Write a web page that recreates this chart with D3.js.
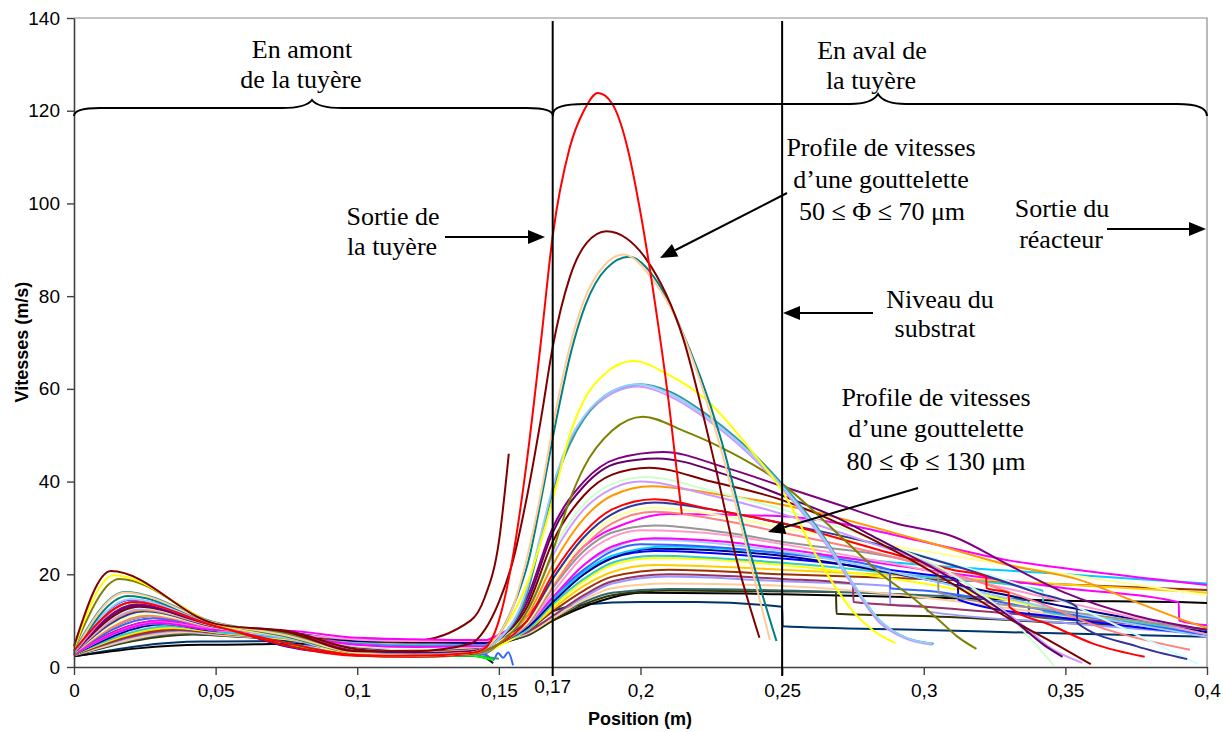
<!DOCTYPE html>
<html>
<head>
<meta charset="utf-8">
<script src="https://cdn.jsdelivr.net/npm/d3@7"></script>
<style>
  body { margin: 0; background: #fff; }
  text { fill: #000; }
</style>
</head>
<body>
<svg id="chart" width="1223" height="732"></svg>
<script>
// axis ticks
const xTicks = [0, 0.05, 0.1, 0.15, 0.2, 0.25, 0.3, 0.35, 0.4]
const yTicks = [0, 20, 40, 60, 80, 100, 120, 140]
const nozzleExit = 0.169 // drawn and labelled as "0,17"
const substrate = 0.25

// one colour per droplet trajectory
const seriesColors = [
  '#FF0000', '#800000', '#FFCC99', '#008080', '#FFFF00', '#99CCFF', '#339999', '#CC99FF',
  '#808000', '#800080', '#660066', '#800000', '#CCFFCC', '#CC99FF', '#FF9900', '#FF0000',
  '#333399', '#CCFFFF', '#FFFF99', '#FF8080', '#FF00FF', '#969696', '#FF99CC', '#FF00FF',
  '#99CCFF', '#3366FF', '#00CCFF', '#000080', '#0000FF', '#33CCCC', '#FFFF00', '#FFCC00',
  '#993300', '#993366', '#9999FF', '#FFCC99', '#336666', '#333300', '#000000', '#003366',
  '#00FF00', '#339966', '#003300', '#3366FF', '#800000'
]

// upstream part (x <= 0.14): [v(0), x of peak, v at peak, then v at upstreamX]
const upstreamX = [0.05, 0.075, 0.1, 0.12, 0.14]
const upstream = [
  [3.5, 0.021, 14, 8.8, 5.2, 2.6, 2.4, 3],
  [4.5, 0.013, 20.7, 9.3, 7.6, 3.4, 3.4, 5],
  [3, 0.018, 16, 9.5, 6.8, 3, 2.5, 3],
  [3, 0.019, 15.3, 9.5, 6.6, 3, 2.6, 3],
  [4, 0.014, 19.8, 9.3, 6.5, 2.8, 2.4, 3],
  [3, 0.02, 14.6, 9.2, 6.4, 3, 2.6, 3],
  [3.5, 0.018, 16.2, 9.6, 6.9, 3, 2.6, 3],
  [3, 0.021, 14, 9, 6.2, 3, 2.7, 3],
  [4, 0.016, 19, 9.4, 7.2, 3, 2.5, 3],
  [3, 0.022, 13.5, 9, 7.4, 3.4, 2.8, 3.2],
  [3, 0.022, 13.2, 9, 7, 3.3, 2.9, 3.3],
  [3, 0.023, 13, 9, 7.8, 3.8, 3, 3.4],
  [3, 0.023, 12.8, 8.9, 6.5, 3.6, 3, 3.4],
  [3, 0.024, 12.5, 8.8, 6.6, 3.6, 3.1, 3.5],
  [3, 0.024, 12.3, 8.8, 6.8, 3.8, 3.2, 3.6],
  [3, 0.021, 14, 9, 4.6, 2.4, 2.2, 2.8],
  [3, 0.025, 12, 8.6, 6.6, 4, 3.4, 3.8],
  [3, 0.025, 11.8, 8.6, 6.4, 4, 3.4, 3.8],
  [3, 0.026, 11.5, 8.5, 6.5, 4.1, 3.5, 3.9],
  [3, 0.027, 11, 8.4, 6.6, 4.2, 3.6, 4],
  [2.8, 0.03, 9.5, 8, 7.8, 6.3, 6, 5.8],
  [3, 0.026, 11.2, 8.5, 5.2, 2.6, 2.2, 2.8],
  [2.8, 0.03, 9.6, 8, 7.2, 5.9, 5.6, 5.6],
  [2.8, 0.03, 10, 8.1, 6.8, 4.8, 4.3, 4.5],
  [2.8, 0.03, 9.8, 8, 6.6, 4.8, 4.3, 4.5],
  [2.8, 0.03, 9.6, 8, 6.5, 4.9, 4.4, 4.6],
  [2.8, 0.03, 9.4, 7.9, 6.3, 5, 4.5, 4.7],
  [2.7, 0.032, 9.2, 7.8, 7.4, 5.6, 5.4, 5.2],
  [3, 0.02, 14.5, 9.3, 4.4, 2.7, 2.4, 2.9],
  [2.7, 0.034, 8.8, 7.6, 6.2, 5.1, 4.7, 4.8],
  [2.7, 0.034, 8.6, 7.5, 6, 3.5, 2.6, 3],
  [2.7, 0.035, 8.4, 7.5, 6.2, 5.2, 4.8, 4.9],
  [2.6, 0.036, 8.2, 7.4, 6.4, 5.3, 4.9, 5],
  [2.6, 0.037, 8, 7.3, 6.2, 5.4, 5, 5.1],
  [2.6, 0.038, 7.8, 7.2, 6.1, 5.4, 5.1, 5.2],
  [2.5, 0.04, 7.5, 7, 6.1, 5.5, 5.2, 5.3],
  [2.5, 0.04, 7.2, 6.9, 6, 5.5, 5.3, 5.4],
  [2.5, 0.042, 7, 6.8, 6, 5.6, 5.4, 5.5],
  [2.3, 0.045, 4.8, 4.8, 5, 5.3, 5.2, 4.6],
  [2.3, 0.045, 5.5, 5.5, 5.6, 5.8, 5.7, 5.5],
  [3, 0.022, 13.5, 9, 5, 2.5, 2.3, 2.5],
  [3, 0.024, 12, 8.8, 5.2, 2.6, 2.4, 2.6],
  [3, 0.027, 11, 8.4, 4.8, 2.5, 2.2, 2.4],
  [3, 0.028, 10.5, 8.2, 5.5, 3.5, 3.2, 3],
  [3, 0.03, 10, 8, 7, 5.4, 5.6, 10]
]

// nozzle and downstream part (x > 0.14): [x, v]
const downstream = [
  [[0.145, 4], [0.15, 10], [0.155, 24], [0.16, 45], [0.165, 71], [0.169, 93], [0.175, 112], [0.18, 120], [0.185, 123.8], [0.19, 121.5], [0.195, 113], [0.2, 98], [0.205, 79], [0.21, 57], [0.2146, 33]],
  [[0.145, 8], [0.15, 14], [0.155, 23], [0.16, 37], [0.165, 54], [0.169, 69], [0.175, 84], [0.181, 91.5], [0.188, 94], [0.195, 92.5], [0.202, 88], [0.215, 71], [0.225, 47], [0.234, 23], [0.242, 6.3]],
  [[0.145, 4], [0.15, 7], [0.155, 13], [0.1597, 23], [0.165, 38], [0.17, 55], [0.175, 69], [0.18, 79], [0.187, 86.5], [0.194, 89], [0.205, 83], [0.2127, 75], [0.227, 50], [0.2386, 23], [0.2457, 5.8]],
  [[0.145, 4], [0.15, 7], [0.155, 13], [0.1605, 23], [0.1655, 38], [0.1705, 54], [0.1755, 68], [0.1805, 78], [0.188, 86], [0.196, 88.5], [0.206, 83], [0.2135, 74], [0.228, 50], [0.2395, 23], [0.248, 5.6]],
  [[0.145, 4], [0.15, 7], [0.16, 18], [0.169, 36], [0.175, 50], [0.18, 57.5], [0.187, 63], [0.1974, 66], [0.21, 63], [0.2233, 57.6], [0.24, 46], [0.25, 38], [0.263, 23], [0.275, 12], [0.283, 7.5], [0.29, 5.2]],
  [[0.145, 4], [0.15, 6], [0.16, 17], [0.165, 29], [0.17, 41], [0.175, 49], [0.18, 54], [0.19, 59.5], [0.199, 61], [0.21, 59], [0.2233, 54], [0.25, 39], [0.2655, 27], [0.275, 18], [0.2845, 10], [0.293, 6.5], [0.303, 5]],
  [[0.145, 4], [0.15, 6], [0.16, 16], [0.165, 28], [0.17, 40], [0.175, 48], [0.18, 53.5], [0.19, 59.5], [0.2, 61], [0.21, 59.5], [0.2233, 54.5], [0.25, 39.5], [0.2655, 27.4], [0.275, 18], [0.2845, 10], [0.293, 6.5], [0.3035, 5]],
  [[0.145, 4], [0.15, 6], [0.16, 16.5], [0.165, 28.5], [0.17, 40.5], [0.175, 48.5], [0.18, 53.5], [0.19, 59], [0.199, 60.5], [0.21, 58.5], [0.2233, 53.5], [0.25, 38.5], [0.2655, 26.5], [0.275, 17.5], [0.2845, 9.5], [0.293, 6.3], [0.303, 4.8]],
  [[0.145, 3.5], [0.15, 5], [0.16, 12], [0.169, 25], [0.175, 36], [0.18, 43], [0.19, 51], [0.2009, 54], [0.215, 51], [0.228, 47.5], [0.249, 40], [0.2727, 27], [0.285, 20], [0.296, 15], [0.3056, 10], [0.312, 6.5], [0.3186, 3.9]],
  [[0.145, 4], [0.15, 6], [0.16, 15], [0.169, 30], [0.18, 40], [0.192, 45], [0.208, 46.4], [0.23, 43], [0.25, 39], [0.27, 35], [0.29, 31], [0.311, 28], [0.33, 22], [0.35, 16], [0.375, 11], [0.4, 8]],
  [[0.145, 4], [0.15, 6], [0.16, 14], [0.169, 29], [0.18, 39], [0.192, 44], [0.206, 45], [0.23, 41.5], [0.25, 37], [0.27, 32], [0.2845, 27.4], [0.31, 19], [0.33, 11], [0.343, 4.5], [0.349, 2.2]],
  [[0.145, 4], [0.15, 6], [0.16, 13], [0.169, 27], [0.18, 37], [0.19, 41.5], [0.203, 43], [0.225, 40], [0.25, 36], [0.27, 31], [0.288, 25.6], [0.31, 18], [0.33, 10.5], [0.345, 5.5], [0.359, 0.6]],
  [[0.145, 4], [0.15, 6], [0.16, 12], [0.169, 25], [0.18, 35], [0.19, 39.5], [0.202, 41], [0.225, 38], [0.25, 34], [0.28, 28], [0.31, 20], [0.33, 11], [0.346, 0.3]],
  [[0.145, 4], [0.15, 6], [0.16, 12], [0.169, 24], [0.18, 34], [0.19, 38.5], [0.2, 40], [0.225, 37], [0.25, 33], [0.28, 27], [0.31, 20], [0.335, 9], [0.345, 4], [0.356, 0.9]],
  [[0.145, 4], [0.15, 6], [0.16, 11], [0.169, 22], [0.18, 32], [0.19, 37], [0.204, 39], [0.225, 37.5], [0.25, 35], [0.2986, 27.4], [0.33, 22], [0.355, 18.8], [0.375, 14], [0.39, 10.5], [0.4, 8.4]],
  [[0.145, 3.5], [0.15, 5], [0.16, 10], [0.169, 20], [0.18, 29], [0.19, 34], [0.205, 36.2], [0.225, 34], [0.25, 31], [0.2845, 25.2], [0.31, 21], [0.322, 19.5], [0.3222, 17], [0.33, 16], [0.3302, 13], [0.345, 9], [0.36, 5], [0.378, 2.2]],
  [[0.145, 4], [0.15, 6], [0.16, 10], [0.169, 19], [0.18, 28], [0.19, 33], [0.205, 35.5], [0.225, 34], [0.25, 31], [0.28, 27], [0.31, 22], [0.34, 16], [0.354, 13], [0.3542, 9.5], [0.375, 4.5], [0.393, 1.7]],
  [[0.145, 4], [0.15, 6], [0.16, 10], [0.169, 19], [0.18, 28], [0.19, 33], [0.2, 35.5], [0.225, 34], [0.25, 31], [0.3, 24], [0.35, 14], [0.375, 7], [0.397, 0.6]],
  [[0.145, 4], [0.15, 5.5], [0.16, 9.5], [0.169, 18], [0.18, 27], [0.19, 32], [0.205, 34.3], [0.23, 32.5], [0.25, 30], [0.3, 25], [0.35, 20], [0.4, 15.5]],
  [[0.145, 4], [0.15, 5.5], [0.16, 9.5], [0.169, 17.5], [0.18, 26], [0.19, 31], [0.205, 33.5], [0.23, 31.5], [0.25, 29], [0.3, 22], [0.34, 14], [0.365, 8], [0.394, 3.7]],
  [[0.145, 5.8], [0.15, 7], [0.16, 11], [0.169, 18], [0.18, 26], [0.195, 31], [0.21, 33], [0.25, 32.5], [0.27, 31], [0.3, 27], [0.33, 23], [0.36, 20.5], [0.4, 17.7]],
  [[0.145, 3], [0.15, 5], [0.16, 9], [0.169, 17], [0.18, 25], [0.19, 29], [0.205, 30.5], [0.23, 29], [0.25, 27], [0.3, 22], [0.305, 21], [0.3052, 16], [0.35, 12], [0.4, 8]],
  [[0.145, 5.6], [0.15, 6.5], [0.16, 9], [0.169, 16], [0.18, 24], [0.19, 28], [0.2, 29.5], [0.23, 28.5], [0.25, 26.5], [0.3, 21], [0.35, 14], [0.4, 7]],
  [[0.145, 4.5], [0.15, 6], [0.16, 9], [0.169, 15], [0.18, 22], [0.19, 26], [0.205, 27.8], [0.23, 27], [0.25, 25.5], [0.3, 21], [0.35, 17], [0.39, 14], [0.3902, 10], [0.4, 9]],
  [[0.145, 4.5], [0.15, 6], [0.16, 9], [0.169, 15], [0.18, 22], [0.19, 25.5], [0.2, 27.5], [0.25, 25], [0.3, 19], [0.35, 12], [0.4, 6.5]],
  [[0.145, 4.6], [0.15, 6], [0.16, 9], [0.169, 15], [0.18, 21], [0.19, 25], [0.2, 26.5], [0.25, 24.5], [0.288, 21], [0.2882, 17], [0.3, 16.5], [0.35, 11.5], [0.4, 7]],
  [[0.145, 4.7], [0.15, 6], [0.16, 9], [0.169, 14.5], [0.18, 20.5], [0.19, 24], [0.21, 26], [0.25, 24.6], [0.3, 22], [0.35, 20], [0.4, 18]],
  [[0.145, 5.2], [0.15, 6], [0.16, 8.5], [0.169, 14], [0.18, 20], [0.19, 23.5], [0.205, 25.5], [0.25, 24], [0.3, 19], [0.35, 13], [0.4, 7.5]],
  [[0.145, 3], [0.15, 5], [0.16, 8.5], [0.169, 14], [0.18, 20], [0.19, 23.5], [0.205, 25], [0.25, 23.4], [0.3, 20], [0.312, 19], [0.3122, 14.5], [0.35, 10.5], [0.4, 7]],
  [[0.145, 4.8], [0.15, 5.5], [0.16, 8], [0.169, 13.5], [0.18, 19], [0.19, 22.5], [0.205, 24], [0.25, 22.5], [0.3, 19.5], [0.342, 16.5], [0.3422, 12], [0.37, 10], [0.4, 7.5]],
  [[0.145, 3], [0.15, 4.5], [0.16, 8], [0.169, 13], [0.18, 18.5], [0.19, 22], [0.205, 23.5], [0.25, 22], [0.3, 18], [0.35, 12], [0.4, 7.8]],
  [[0.145, 5], [0.15, 6], [0.16, 8], [0.169, 12.5], [0.18, 17.5], [0.19, 20.5], [0.205, 22], [0.25, 21], [0.3, 19.5], [0.35, 17.8], [0.4, 16]],
  [[0.145, 5], [0.15, 6], [0.16, 8], [0.169, 12], [0.18, 16.5], [0.19, 19.5], [0.21, 21], [0.25, 20], [0.3, 19], [0.35, 17.8], [0.4, 16.6]],
  [[0.145, 5.1], [0.15, 5.8], [0.16, 7.5], [0.169, 11], [0.18, 15.5], [0.19, 18.5], [0.21, 20], [0.25, 19], [0.275, 18], [0.2752, 14], [0.3, 13], [0.35, 10.5], [0.4, 8]],
  [[0.145, 5.2], [0.15, 5.8], [0.16, 7.5], [0.169, 11], [0.18, 15], [0.19, 18], [0.21, 19.5], [0.25, 18.5], [0.288, 17.5], [0.2882, 13.5], [0.301, 13], [0.3012, 12], [0.35, 9.5], [0.4, 7]],
  [[0.145, 5.3], [0.15, 5.8], [0.16, 7.2], [0.169, 10.5], [0.18, 14.5], [0.19, 17], [0.21, 18], [0.25, 17.5], [0.3, 15], [0.35, 11], [0.4, 7]],
  [[0.145, 5.4], [0.15, 5.6], [0.16, 7], [0.169, 10.5], [0.18, 14], [0.19, 16], [0.21, 16.8], [0.25, 16.5], [0.3, 15.5], [0.337, 14.5], [0.3372, 11], [0.37, 9.5], [0.4, 8]],
  [[0.145, 5.5], [0.15, 5.6], [0.16, 6.8], [0.169, 10], [0.18, 13.5], [0.19, 15.5], [0.21, 16.5], [0.25, 16.3], [0.269, 16.2], [0.2692, 11.5], [0.3, 11], [0.35, 9.5], [0.4, 8.2]],
  [[0.145, 4.5], [0.15, 5], [0.16, 7], [0.169, 10], [0.18, 13], [0.19, 15], [0.2, 16], [0.25, 15.7], [0.3, 15], [0.35, 14.3], [0.39, 14], [0.4, 13.8]],
  [[0.145, 5.5], [0.15, 5.7], [0.16, 7.5], [0.169, 12], [0.18, 13.5], [0.2, 14], [0.22, 14], [0.25, 13], [0.2502, 8.8], [0.3, 8], [0.35, 7.2], [0.4, 6.5]],
  [[0.145, 2], [0.148, 1.5]],
  [[0.145, 2.2], [0.15, 1.8]],
  [[0.145, 2], [0.148, 0.8]],
  [[0.1455, 2.6], [0.148, 1.5], [0.1497, 3], [0.1515, 2], [0.1533, 3.2], [0.155, 0.4]],
  [[0.145, 15], [0.15, 27], [0.1535, 46]]
]

const svg = d3.select('#chart')
const x = d3.scaleLinear().domain([0, 0.4]).range([74, 1207])
const y = d3.scaleLinear().domain([0, 140]).range([667, 18])
const comma = (d) => String(d).replace('.', ',')

// build each trajectory from its two parts
const series = upstream.map((u, i) => {
  const pts = [[0, u[0]], [u[1], u[2]]]
  upstreamX.forEach((xv, k) => pts.push([xv, u[3 + k]]))
  return { color: seriesColors[i], points: pts.concat(downstream[i]) }
})

// plot frame (grey top/right)
svg.append('path')
  .attr('d', `M${x(0)},${y(140)}H${x(0.4)}V${y(0)}`)
  .attr('fill', 'none').attr('stroke', '#8c8c8c').attr('stroke-width', 1.2)

const line = d3.line()
  .x((d) => x(d[0]))
  .y((d) => y(d[1]))
  .curve(d3.curveMonotoneX)

svg.append('g')
  .selectAll('path')
  .data(series.slice().reverse())
  .join('path')
  .attr('d', (d) => line(d.points))
  .attr('fill', 'none')
  .attr('stroke', (d) => d.color)
  .attr('stroke-width', 2)

// axes
const yAxis = svg.append('g')
  .attr('transform', `translate(${x(0)},0)`)
  .call(d3.axisLeft(y).tickValues(yTicks).tickSize(7).tickSizeOuter(0).tickPadding(7))
const xAxis = svg.append('g')
  .attr('transform', `translate(0,${y(0)})`)
  .call(d3.axisBottom(x).tickValues(xTicks).tickFormat(comma).tickSize(8).tickSizeOuter(0).tickPadding(9))

;[xAxis, yAxis].forEach((g) => {
  g.select('.domain').attr('stroke', '#404040').attr('stroke-width', 1.6)
  g.selectAll('.tick line').attr('stroke', '#404040').attr('stroke-width', 1.4)
  g.selectAll('.tick text')
    .attr('font-family', 'Liberation Sans, Arial, sans-serif')
    .attr('font-size', 19)
    .attr('fill', '#000')
})

// extra label at nozzle exit
svg.append('text')
  .attr('x', x(nozzleExit)).attr('y', 693)
  .attr('text-anchor', 'middle')
  .attr('font-family', 'Liberation Sans, Arial, sans-serif')
  .attr('font-size', 19)
  .text('0,17')

// axis titles
svg.append('text')
  .attr('x', 640).attr('y', 725)
  .attr('text-anchor', 'middle')
  .attr('font-family', 'Liberation Sans, Arial, sans-serif')
  .attr('font-size', 18).attr('font-weight', 'bold')
  .text('Position (m)')
svg.append('text')
  .attr('transform', 'translate(28,342) rotate(-90)')
  .attr('text-anchor', 'middle')
  .attr('font-family', 'Liberation Sans, Arial, sans-serif')
  .attr('font-size', 18).attr('font-weight', 'bold')
  .text('Vitesses (m/s)')

// nozzle exit and substrate levels
;[nozzleExit, substrate].forEach((v) => {
  svg.append('line')
    .attr('x1', x(v)).attr('x2', x(v))
    .attr('y1', 21).attr('y2', 676)
    .attr('stroke', '#000').attr('stroke-width', 2)
})

// curly braces over the two zones
const braces = [
  'M74,116 Q74,108 100,108 L282,108 Q306,108 312,100 Q318,108 342,108 L527,108 Q553,108 553,116',
  'M553,114 Q553,104 585,104 L850,104 Q872,104 878,94 Q884,104 906,104 L1177,104 Q1207,104 1207,116'
]
svg.append('g').selectAll('path').data(braces).join('path')
  .attr('d', (d) => d)
  .attr('fill', 'none').attr('stroke', '#000').attr('stroke-width', 2)

// arrows: [x1, y1, x2 (tip), y2]
const arrows = [
  [445, 237, 545, 237],
  [1107, 229, 1206, 229],
  [873, 313, 783, 313],
  [787, 193, 660, 258],
  [918, 488, 768, 532]
]
arrows.forEach(([x1, y1, x2, y2]) => {
  const a = Math.atan2(y2 - y1, x2 - x1)
  const len = 17, w = 7
  const bx = x2 - len * Math.cos(a), by = y2 - len * Math.sin(a)
  svg.append('line')
    .attr('x1', x1).attr('y1', y1).attr('x2', bx).attr('y2', by)
    .attr('stroke', '#000').attr('stroke-width', 2)
  svg.append('path')
    .attr('d', `M${x2},${y2}L${bx - w * Math.sin(a)},${by + w * Math.cos(a)}L${bx + w * Math.sin(a)},${by - w * Math.cos(a)}Z`)
    .attr('fill', '#000')
})

// annotation texts: [text, cx, baseline]
const notes = [
  ['En amont', 302, 58], ['de la tuyère', 301, 88],
  ['En aval de', 872, 59], ['la tuyère', 871, 89],
  ['Profile de vitesses', 881, 156], ['d’une gouttelette', 881, 188], ['50 ≤ Φ ≤ 70 μm', 882, 220],
  ['Sortie de', 393, 225], ['la tuyère', 392, 255],
  ['Sortie du', 1062, 217], ['réacteur', 1061, 248],
  ['Niveau du', 940, 308], ['substrat', 935, 337],
  ['Profile de vitesses', 936, 406], ['d’une gouttelette', 936, 437], ['80 ≤ Φ ≤ 130 μm', 936, 470]
]
svg.append('g').selectAll('text').data(notes).join('text')
  .attr('x', (d) => d[1]).attr('y', (d) => d[2])
  .attr('text-anchor', 'middle')
  .attr('font-family', 'Liberation Serif, Times New Roman, serif')
  .attr('font-size', 26)
  .text((d) => d[0])
</script>
</body>
</html>
